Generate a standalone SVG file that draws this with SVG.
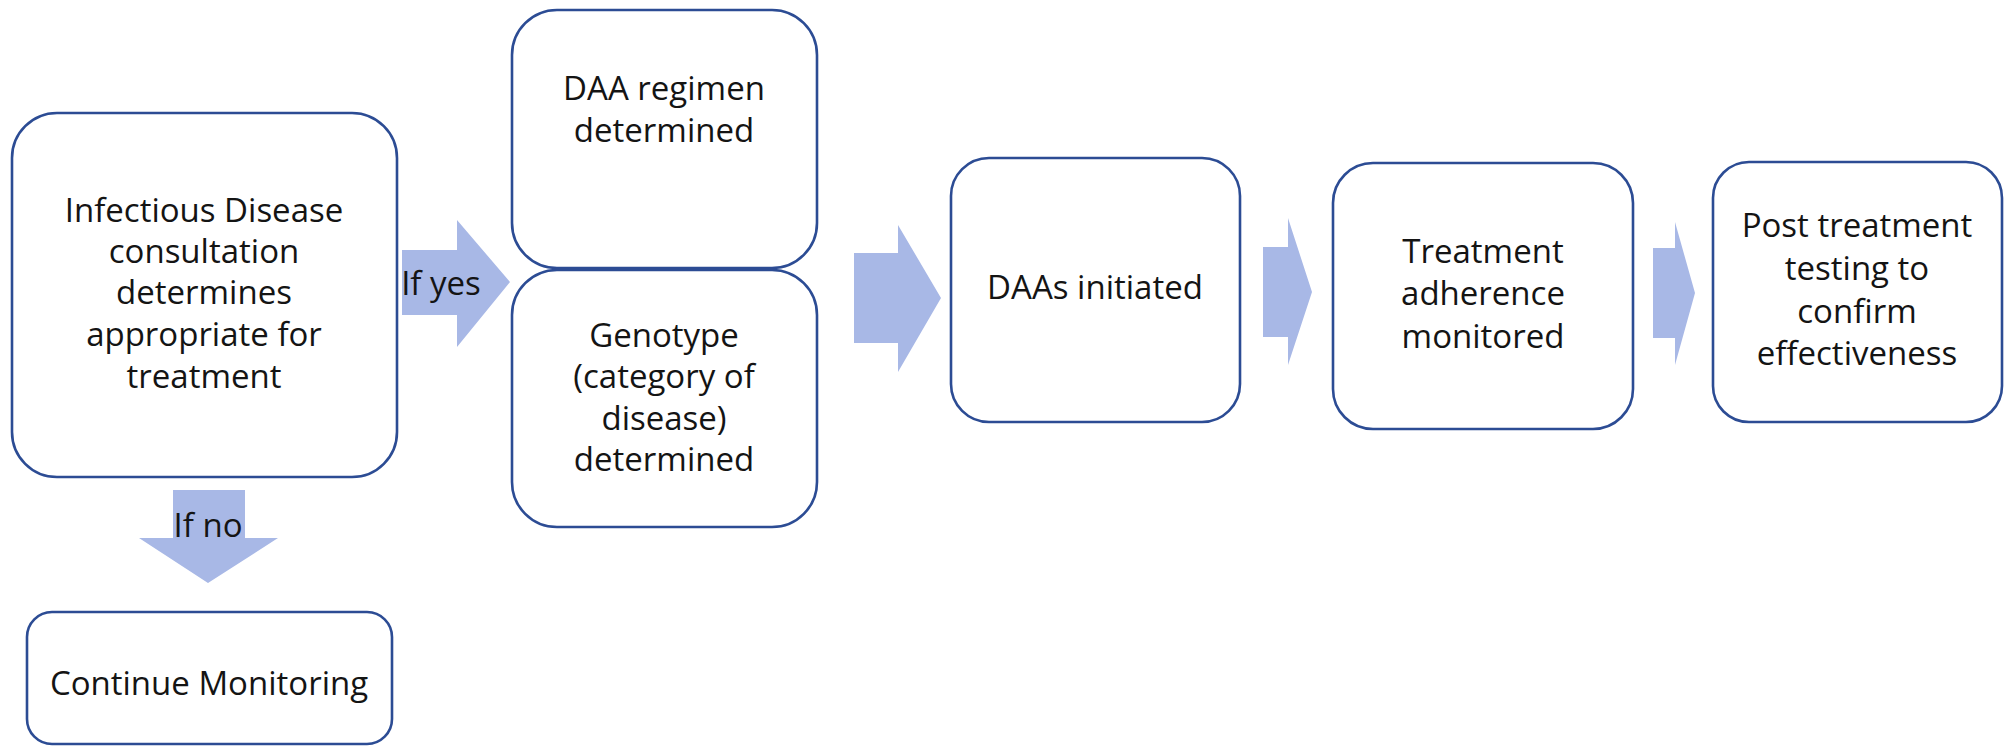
<svg xmlns="http://www.w3.org/2000/svg" width="2009" height="746" viewBox="0 0 2009 746">
  <style>
    .box { fill: #ffffff; stroke: #2c4c94; stroke-width: 2.6; }
    .arrow { fill: #a8b8e6; stroke: none; }
    .label { font-family: "Open Sans", "Liberation Sans", sans-serif; font-size: 33px; fill: #141414; text-anchor: middle; }
  </style>
  <rect width="2009" height="746" fill="#ffffff"/>

  <!-- block arrows between steps -->
  <g id="connectors">
    <polygon class="arrow" points="402,250 457,250 457,220 510,282 457,347 457,315 402,315"/>
    <text class="label" x="441" y="295">If yes</text>
    <polygon class="arrow" points="173,490 245,490 245,538 278,538 208,583 139,538 173,538"/>
    <text class="label" x="208" y="537">If no</text>
    <polygon class="arrow" points="854,253 898,253 898,225 941,298 898,372 898,343 854,343"/>
    <polygon class="arrow" points="1263,247 1288,247 1288,218 1312,292 1288,365 1288,337 1263,337"/>
    <polygon class="arrow" points="1653,248 1675,248 1675,222 1695,293 1675,365 1675,338 1653,338"/>
  </g>

  <g id="consultation">
    <rect class="box" x="12" y="113" width="385" height="364" rx="45" ry="45"/>
    <text class="label" x="204" y="222">Infectious Disease</text>
    <text class="label" x="204" y="263">consultation</text>
    <text class="label" x="204" y="304">determines</text>
    <text class="label" x="204" y="346">appropriate for</text>
    <text class="label" x="204" y="388">treatment</text>
  </g>

  <g id="continue-monitoring">
    <rect class="box" x="27" y="612" width="365" height="132" rx="25" ry="25"/>
    <text class="label" x="209" y="695">Continue Monitoring</text>
  </g>

  <g id="daa-regimen">
    <rect class="box" x="512" y="10" width="305" height="258" rx="45" ry="45"/>
    <text class="label" x="664" y="100">DAA regimen</text>
    <text class="label" x="664" y="142">determined</text>
  </g>

  <g id="genotype">
    <rect class="box" x="512" y="270" width="305" height="257" rx="45" ry="45"/>
    <text class="label" x="664" y="347">Genotype</text>
    <text class="label" x="664" y="388">(category of</text>
    <text class="label" x="664" y="430">disease)</text>
    <text class="label" x="664" y="471">determined</text>
  </g>

  <g id="daas-initiated">
    <rect class="box" x="951" y="158" width="289" height="264" rx="38" ry="38"/>
    <text class="label" x="1095" y="299">DAAs initiated</text>
  </g>

  <g id="adherence">
    <rect class="box" x="1333" y="163" width="300" height="266" rx="40" ry="40"/>
    <text class="label" x="1483" y="263">Treatment</text>
    <text class="label" x="1483" y="305">adherence</text>
    <text class="label" x="1483" y="348">monitored</text>
  </g>

  <g id="post-treatment">
    <rect class="box" x="1713" y="162" width="289" height="260" rx="36" ry="36"/>
    <text class="label" x="1857" y="237">Post treatment</text>
    <text class="label" x="1857" y="280">testing to</text>
    <text class="label" x="1857" y="323">confirm</text>
    <text class="label" x="1857" y="365">effectiveness</text>
  </g>
</svg>
